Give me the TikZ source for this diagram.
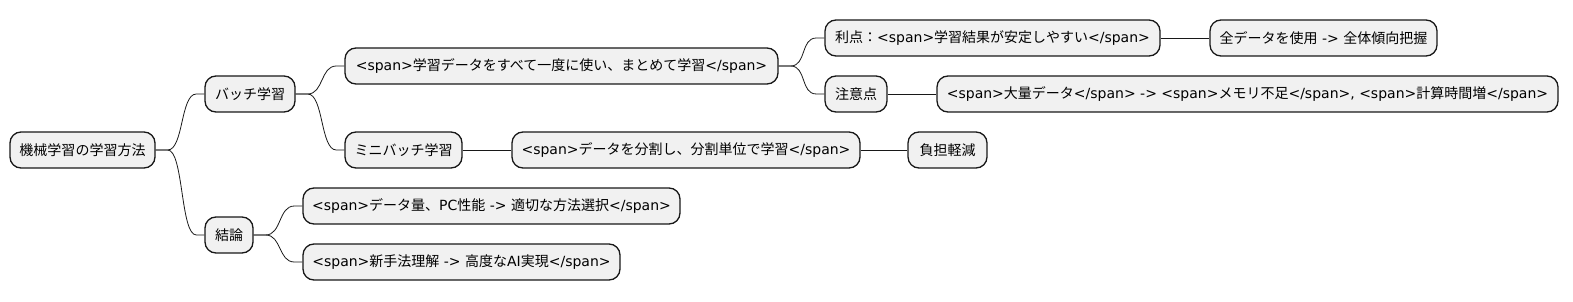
\documentclass[tikz,border=0pt]{standalone}
\usepackage{fontspec}
\setmainfont{DejaVu Sans}
\newfontfamily\cjkfont{Noto Sans CJK JP}
\newfontfamily\latfont{DejaVu Sans}
\XeTeXinterchartokenstate=1
\newXeTeXintercharclass\CJKcls
\newcount\cjkcc
\cjkcc="3000
\loop\ifnum\cjkcc<"A000 \XeTeXcharclass\cjkcc=\CJKcls \advance\cjkcc by 1 \repeat
\cjkcc="FF00
\loop\ifnum\cjkcc<"FFF0 \XeTeXcharclass\cjkcc=\CJKcls \advance\cjkcc by 1 \repeat
\XeTeXinterchartoks 0 \CJKcls = {\cjkfont}
\XeTeXinterchartoks 4095 \CJKcls = {\cjkfont}
\XeTeXinterchartoks \CJKcls 0 = {\latfont}
\XeTeXinterchartoks \CJKcls 4095 = {\latfont}
\usetikzlibrary{calc}
\definecolor{boxfill}{HTML}{F1F1F1}
\definecolor{boxline}{HTML}{181818}
\tikzset{
  mm/.style={draw=boxline, fill=boxfill, line width=1.3pt, rounded corners=11pt,
    minimum height=36pt, inner sep=0pt, align=center, font=\fontsize{14}{16}\selectfont},
  edge/.style={draw=boxline, line width=0.8pt}
}
\newcommand{\curv}[2]{\draw[edge] (#1.east) -- ++(12,0) .. controls +(16,0) and +(-16,0) .. ($(#2.west)+(-8,0)$) -- (#2.west);}
\begin{document}
\begin{tikzpicture}[x=1pt,y=-1pt]
\useasboundingbox (0,0) rectangle (1573,302);
\node[mm, minimum width=145pt] (root) at (82.5,150) {機械学習の学習方法};
\node[mm, minimum width=90pt] (b) at (250,94) {バッチ学習};
\node[mm, minimum width=48pt] (k) at (229,235) {結論};
\node[mm, minimum width=433pt] (b1) at (561.5,66) {<span>学習データをすべて一度に使い、まとめて学習</span>};
\node[mm, minimum width=117pt] (b2) at (403.5,150) {ミニバッチ学習};
\node[mm, minimum width=335pt] (b11) at (992.5,38) {利点：<span>学習結果が安定しやすい</span>};
\node[mm, minimum width=227pt] (b111) at (1323.5,38) {全データを使用 -> 全体傾向把握};
\node[mm, minimum width=62pt] (b12) at (856,94) {注意点};
\node[mm, minimum width=621pt] (b121) at (1247.5,94) {<span>大量データ</span> -> <span>メモリ不足</span>, <span>計算時間増</span>};
\node[mm, minimum width=348pt] (b21) at (686,150) {<span>データを分割し、分割単位で学習</span>};
\node[mm, minimum width=79pt] (b211) at (947.5,150) {負担軽減};
\node[mm, minimum width=377pt] (k1) at (491.5,206) {<span>データ量、PC性能 -> 適切な方法選択</span>};
\node[mm, minimum width=317pt] (k2) at (461.5,262) {<span>新手法理解 -> 高度なAI実現</span>};
\curv{root}{b}
\curv{root}{k}
\curv{b}{b1}
\curv{b}{b2}
\curv{b1}{b11}
\curv{b1}{b12}
\curv{k}{k1}
\curv{k}{k2}
\draw[edge] (b11) -- (b111);
\draw[edge] (b12) -- (b121);
\draw[edge] (b2) -- (b21);
\draw[edge] (b21) -- (b211);
\end{tikzpicture}
\end{document}
